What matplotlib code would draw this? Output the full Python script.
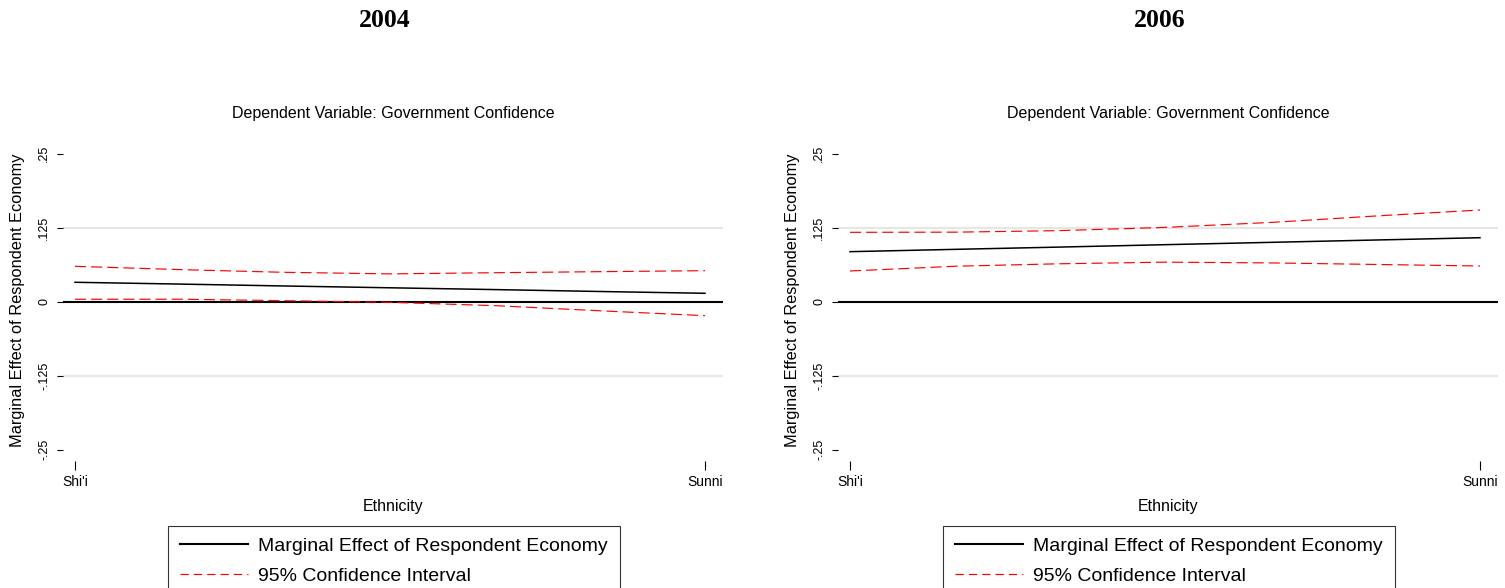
import matplotlib
matplotlib.use("Agg")
import matplotlib.pyplot as plt
from matplotlib.lines import Line2D

# ethnicity scale: 0 = Shi'i, 1 = Sunni
ethnicity = [0.0, 0.17, 0.33, 0.5, 0.67, 0.83, 1.0]
tick_pos = [0, 1]
tick_labels = ["Shi'i", "Sunni"]
yticks = [-0.25, -0.125, 0, 0.125, 0.25]
ytick_labels = ["-.25", "-.125", "0", ".125", ".25"]

years = ["2004", "2006"]
effect = {
    "2004": [0.0328, 0.0297, 0.0266, 0.0235, 0.0204, 0.0173, 0.0142],
    "2006": [0.0845, 0.0885, 0.0922, 0.0963, 0.1003, 0.1041, 0.1081],
}
upper = {
    "2004": [0.0598, 0.0541, 0.0497, 0.0470, 0.0490, 0.0507, 0.0524],
    "2006": [0.1172, 0.1175, 0.1200, 0.1255, 0.1340, 0.1445, 0.1549],
}
lower = {
    "2004": [0.0041, 0.0042, 0.0017, -0.0010, -0.0068, -0.0152, -0.0236],
    "2006": [0.0519, 0.0600, 0.0640, 0.0668, 0.0655, 0.0630, 0.0603],
}

plt.rcParams.update({
    "font.family": ["Liberation Sans", "DejaVu Sans"],
    "lines.scale_dashes": False,
})

W, H = 1505, 588
fig = plt.figure(figsize=(W / 100, H / 100), dpi=100)

# pixel layout of each panel: (axes left, axes right, title x, legend left)
panels = {
    "2004": (63, 723, 385, 168),
    "2006": (838, 1498, 1160, 943),
}
ax_top, ax_bot = 140, 461

for year in years:
    x0, x1, tx, lx = panels[year]
    ax = fig.add_axes([x0 / W, 1 - ax_bot / H, (x1 - x0) / W, (ax_bot - ax_top) / H])
    for s in ax.spines.values():
        s.set_visible(False)

    ax.axhline(0.125, color="#e6e6e6", lw=1.5, zorder=0)
    ax.axhline(-0.125, color="#e6e6e6", lw=1.5, zorder=0)
    ax.axhline(0, color="black", lw=1.5, zorder=1)

    ax.plot(ethnicity, effect[year], color="black", lw=1.1, zorder=3)
    ax.plot(ethnicity, upper[year], color="red", lw=0.85, dashes=(8, 3.6), zorder=2)
    ax.plot(ethnicity, lower[year], color="red", lw=0.85, dashes=(8, 3.6), zorder=2)

    left_m = (850 - 838) / 630 if year == "2006" else (75 - 63) / 630
    ax.set_xlim(-left_m, 1 + 18 / 630)
    ax.set_ylim((301.7 - ax_bot) / 74 * 0.125, (301.7 - ax_top) / 74 * 0.125)

    ax.set_yticks(yticks)
    ax.set_yticklabels(ytick_labels, rotation=90, va="center", fontsize=9)
    ax.tick_params(axis="y", length=4.3, width=0.8, pad=5)
    ax.set_xticks(tick_pos)
    ax.set_xticklabels(tick_labels, fontsize=10)
    ax.tick_params(axis="x", length=6.5, width=0.8, pad=3.5)

    ax.set_ylabel("Marginal Effect of Respondent Economy", fontsize=11.8)
    ax.yaxis.set_label_coords(-0.0575, 0.5)
    ax.set_xlabel("Ethnicity", fontsize=11.5)
    ax.xaxis.set_label_coords(0.5, -0.118)
    ax.set_title("Dependent Variable: Government Confidence", fontsize=11.5, pad=15.5)

    fig.text(tx / W, 1 - 27 / H, year, ha="center", va="baseline",
             fontsize=18.5, fontweight="bold", family="Liberation Serif")

    handles = [
        Line2D([], [], color="black", lw=1.5),
        Line2D([], [], color="red", lw=0.85, dashes=(6, 3.6)),
    ]
    leg = ax.legend(handles, ["Marginal Effect of Respondent Economy", "95% Confidence Interval"],
                    loc="upper left", bbox_to_anchor=(lx / W, 1 - 526 / H),
                    bbox_transform=fig.transFigure, borderaxespad=0, fontsize=14,
                    frameon=True, fancybox=False, edgecolor="black", handlelength=3.5,
                    handletextpad=0.55, labelspacing=0.62, borderpad=0.6)
    leg.get_frame().set_linewidth(0.8)

fig.savefig("out.png", dpi=100)
